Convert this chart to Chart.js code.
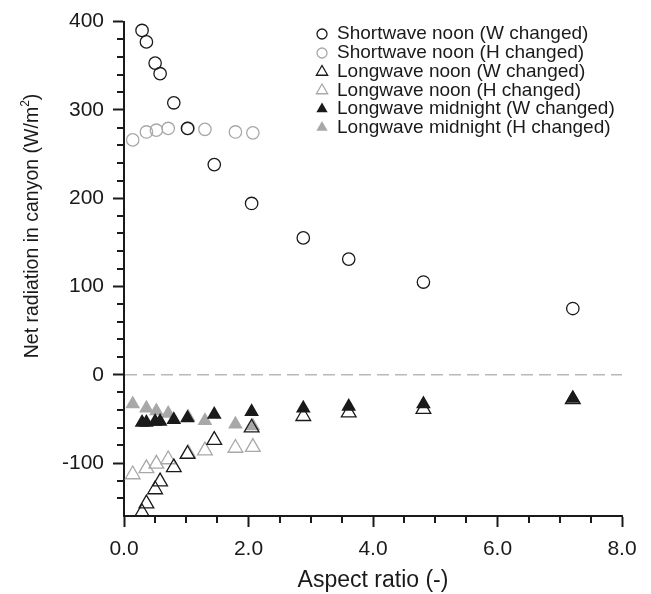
<!DOCTYPE html>
<html>
<head>
<meta charset="utf-8">
<script src="https://cdn.jsdelivr.net/npm/chart.js@4/dist/chart.umd.min.js"></script>
<style>
  html, body { margin: 0; padding: 0; background: #fff; }
</style>
</head>
<body>
<canvas id="chart" width="651" height="594"></canvas>
<script>
// runs where the canyon width W was changed
const arW = [0.29, 0.36, 0.50, 0.58, 0.80, 1.02, 1.45, 2.05, 2.88, 3.61, 4.81, 7.21];
const swNoonW = [390, 377, 353, 341, 308, 279, 238, 194, 155, 131, 105, 75];
const lwNoonW = [-156, -146, -130, -121, -105, -90, -74, -60, -47, -43, -39, -28];
const lwMidW = [-54, -54, -53, -53, -51, -49, -45, -42, -38, -36, -33, -27];

// runs where the building height H was changed
const arH = [0.14, 0.36, 0.52, 0.71, 1.03, 1.30, 1.79, 2.07];
const swNoonH = [266, 275, 277, 279, 279, 278, 275, 274];
const lwNoonH = [-113, -106, -101, -96, -89, -86, -83, -82];
const lwMidH = [-33, -38, -41, -44, -48, -52, -56, -58];

const xTicks = [0, 2, 4, 6, 8];
const yTicks = [-100, 0, 100, 200, 300, 400];

const FONT = '"Liberation Sans", Arial, Helvetica, sans-serif';
const INK = '#1a1a1a';
const GREY = '#a8a8a8';

const pts = (xs, ys) => xs.map((v, i) => ({ x: v, y: ys[i] }));

const series = [
  { label: 'Shortwave noon (W changed)', data: pts(arW, swNoonW), style: 'circle', color: INK, fill: false },
  { label: 'Shortwave noon (H changed)', data: pts(arH, swNoonH), style: 'circle', color: GREY, fill: false },
  { label: 'Longwave noon (W changed)', data: pts(arW, lwNoonW), style: 'triangle', color: INK, fill: false },
  { label: 'Longwave noon (H changed)', data: pts(arH, lwNoonH), style: 'triangle', color: GREY, fill: false },
  { label: 'Longwave midnight (W changed)', data: pts(arW, lwMidW), style: 'triangle', color: INK, fill: true },
  { label: 'Longwave midnight (H changed)', data: pts(arH, lwMidH), style: 'triangle', color: GREY, fill: true },
];

const datasets = series.map(s => ({
  label: s.label,
  data: s.data,
  pointStyle: s.style,
  pointRadius: s.style === 'circle' ? 6.2 : 8.5,
  pointHoverRadius: s.style === 'circle' ? 6.2 : 8.5,
  borderColor: s.color,
  backgroundColor: s.fill ? s.color : 'rgba(0,0,0,0)',
  borderWidth: s.fill ? 0 : 1.3,
}));

const extras = {
  id: 'extras',
  beforeDatasetsDraw(chart) {
    const { ctx, chartArea, scales: { y } } = chart;
    const y0 = y.getPixelForValue(0);
    ctx.save();
    ctx.strokeStyle = '#b8b8b8';
    ctx.lineWidth = 1.5;
    ctx.setLineDash([12, 6]);
    ctx.beginPath();
    ctx.moveTo(chartArea.left + 1, y0);
    ctx.lineTo(chartArea.right, y0);
    ctx.stroke();
    ctx.restore();
  },
  afterDraw(chart) {
    const { ctx, chartArea, scales: { x, y } } = chart;
    ctx.save();

    // minor ticks
    ctx.strokeStyle = INK;
    ctx.lineWidth = 2;
    ctx.beginPath();
    for (let v = 0.5; v < 8; v += 0.5) {
      if (v % 2 === 0) continue;
      const px = Math.round(x.getPixelForValue(v));
      ctx.moveTo(px, chartArea.bottom);
      ctx.lineTo(px, chartArea.bottom + 7);
    }
    for (let v = -140; v < 400; v += 20) {
      if (v % 100 === 0) continue;
      const py = Math.round(y.getPixelForValue(v));
      ctx.moveTo(chartArea.left, py);
      ctx.lineTo(chartArea.left - 7, py);
    }
    ctx.stroke();

    // y axis title with superscript
    ctx.fillStyle = INK;
    ctx.textBaseline = 'middle';
    ctx.textAlign = 'left';
    const main = 'Net radiation in canyon (W/m';
    const big = '19.5px ' + FONT;
    const small = '12px ' + FONT;
    ctx.font = big;
    const w1 = ctx.measureText(main).width;
    const w3 = ctx.measureText(')').width;
    ctx.font = small;
    const w2 = ctx.measureText('2').width;
    const total = w1 + w2 + w3;
    ctx.translate(33, 226);
    ctx.rotate(-Math.PI / 2);
    let cx = -total / 2;
    ctx.font = big;
    ctx.fillText(main, cx, 0);
    cx += w1;
    ctx.font = small;
    ctx.fillText('2', cx, -7);
    cx += w2;
    ctx.font = big;
    ctx.fillText(')', cx, 0);
    ctx.setTransform(1, 0, 0, 1, 0, 0);

    // legend
    const rows = [34, 53, 72, 90.5, 109, 127.5];
    ctx.font = '19px ' + FONT;
    chart.data.datasets.forEach((ds, i) => {
      ctx.fillStyle = ds.backgroundColor;
      ctx.strokeStyle = ds.borderColor;
      ctx.lineWidth = ds.borderWidth || 0;
      Chart.helpers.drawPoint(ctx, {
        pointStyle: ds.pointStyle,
        radius: ds.pointStyle === 'circle' ? 5 : 6.5,
        rotation: 0,
        borderWidth: ds.borderWidth,
      }, 322, rows[i]);
      ctx.fillStyle = INK;
      ctx.textBaseline = 'middle';
      ctx.textAlign = 'left';
      ctx.fillText(ds.label, 337, rows[i]);
    });
    ctx.restore();
  }
};

new Chart(document.getElementById('chart'), {
  type: 'scatter',
  data: { datasets },
  plugins: [extras],
  options: {
    responsive: false,
    animation: false,
    layout: { padding: { left: 0, right: 29, top: 18, bottom: 0 } },
    plugins: {
      legend: { display: false },
      tooltip: { enabled: false },
    },
    scales: {
      x: {
        type: 'linear',
        min: 0,
        max: 8,
        afterFit: s => { s.height = 78; },
        afterBuildTicks: s => { s.ticks = xTicks.map(v => ({ value: v })); },
        grid: { drawOnChartArea: false, tickLength: 11, tickWidth: 2, tickColor: INK },
        border: { color: INK, width: 2 },
        ticks: {
          padding: 10,
          color: INK,
          font: { family: FONT, size: 21 },
          callback: v => v.toFixed(1),
        },
        title: {
          display: true,
          text: 'Aspect ratio (-)',
          color: INK,
          font: { family: FONT, size: 23 },
          padding: { top: 0, bottom: 0 },
        },
      },
      y: {
        type: 'linear',
        min: -160,
        max: 400,
        afterFit: s => { s.width = 124; },
        afterBuildTicks: s => { s.ticks = yTicks.map(v => ({ value: v })); },
        grid: { drawOnChartArea: false, tickLength: 11, tickWidth: 2, tickColor: INK },
        border: { color: INK, width: 2 },
        ticks: {
          padding: 9,
          color: INK,
          font: { family: FONT, size: 21 },
        },
      },
    },
  },
});
</script>
</body>
</html>
